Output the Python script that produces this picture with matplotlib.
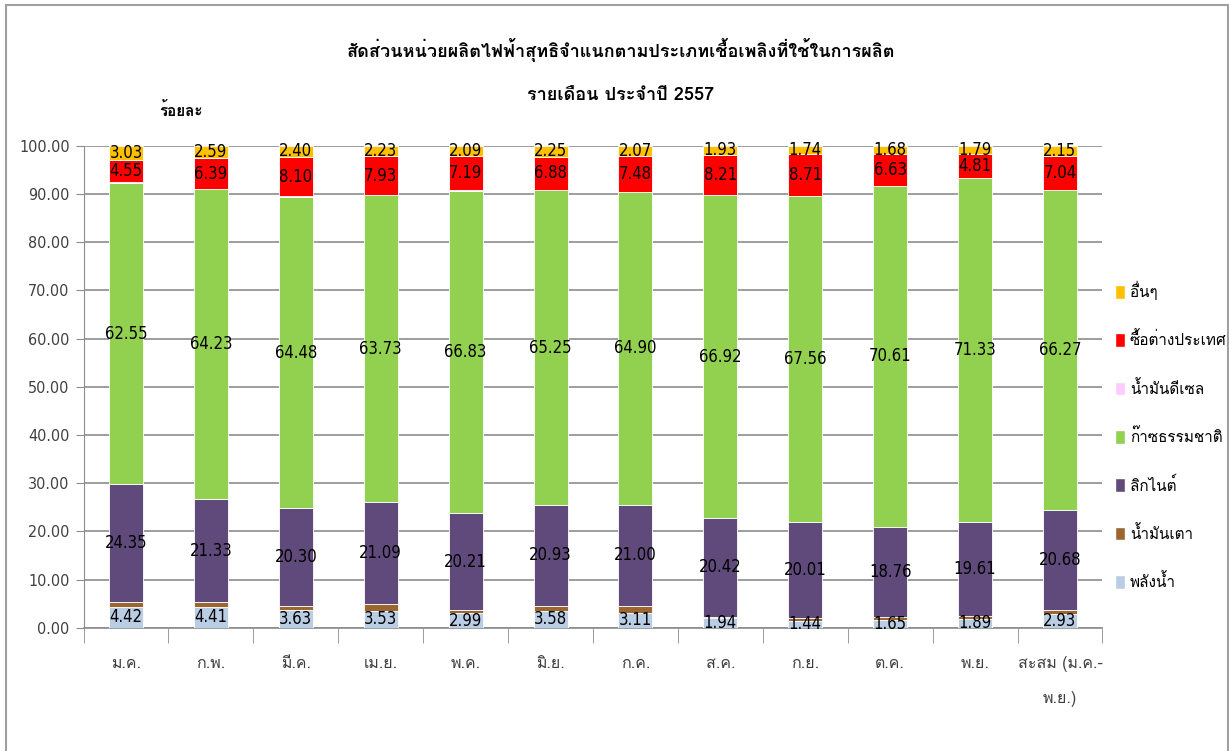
import numpy as np
import matplotlib
matplotlib.use("Agg")
import matplotlib.pyplot as plt
from matplotlib import font_manager
from matplotlib.ft2font import FT2Font
from matplotlib.patches import Rectangle, Patch

# months
months = ["ม.ค.", "ก.พ.", "มี.ค.", "เม.ย.", "พ.ค.", "มิ.ย.", "ก.ค.", "ส.ค.",
          "ก.ย.", "ต.ค.", "พ.ย.", "สะสม (ม.ค.-\nพ.ย.)"]

# series (bottom to top)
hydro = [4.42, 4.41, 3.63, 3.53, 2.99, 3.58, 3.11, 1.94, 1.44, 1.65, 1.89, 2.93]
fuel_oil = [1.00, 0.95, 0.90, 1.40, 0.65, 1.00, 1.40, 0.40, 0.50, 0.60, 0.52, 0.85]
lignite = [24.35, 21.33, 20.30, 21.09, 20.21, 20.93, 21.00, 20.42, 20.01, 18.76, 19.61, 20.68]
gas = [62.55, 64.23, 64.48, 63.73, 66.83, 65.25, 64.90, 66.92, 67.56, 70.61, 71.33, 66.27]
diesel = [0.10, 0.10, 0.19, 0.09, 0.04, 0.11, 0.04, 0.18, 0.04, 0.07, 0.05, 0.08]
imports = [4.55, 6.39, 8.10, 7.93, 7.19, 6.88, 7.48, 8.21, 8.71, 6.63, 4.81, 7.04]
others = [3.03, 2.59, 2.40, 2.23, 2.09, 2.25, 2.07, 1.93, 1.74, 1.68, 1.79, 2.15]

names = ["พลังน้ำ", "น้ำมันเตา", "ลิกไนต์", "ก๊าซธรรมชาติ", "น้ำมันดีเซล",
         "ซื้อต่างประเทศ", "อื่นๆ"]
colors = ["#B9CDE5", "#9C6630", "#604A7B", "#92D050", "#FFCCFF", "#FF0000", "#FFC000"]
show_label = [True, False, True, True, False, True, True]

title1 = "สัดส่วนหน่วยผลิตไฟฟ้าสุทธิจำแนกตามประเภทเชื้อเพลิงที่ใช้ในการผลิต"
title2 = "รายเดือน ประจำปี 2557"


# find a font that has thai glyphs
def thai_font():
    for f in font_manager.fontManager.ttflist:
        try:
            cmap = FT2Font(f.fname).get_charmap()
        except Exception:
            continue
        if 0x0E01 in cmap and 0x0E49 in cmap:
            return f.name
    return None


tf = thai_font()
fams = ([tf] if tf else []) + ["DejaVu Sans"]
plt.rcParams['font.family'] = fams
numfam = ["DejaVu Sans"]

series = [hydro, fuel_oil, lignite, gas, diesel, imports, others]

fig = plt.figure(figsize=(12.29, 7.51), dpi=100)
ax = fig.add_axes([0.068, 0.164, 0.829, 0.642])

x = np.arange(len(months))
bottom = np.zeros(len(months))
handles = []
for vals, name, col, lab in zip(series, names, colors, show_label):
    vals = np.array(vals)
    ax.bar(x, vals, 0.40, bottom=bottom, color=col, edgecolor="white",
           linewidth=0.6, zorder=3)
    if lab:
        for xi, b, v in zip(x, bottom, vals):
            ax.text(xi, b + v / 2, "%.2f" % v, ha="center", va="center",
                    fontsize=12, family=numfam, fontstretch="condensed",
                    zorder=4)
    handles.append(Patch(facecolor=col, edgecolor="white", label=name))
    bottom += vals

ax.set_xlim(-0.5, len(months) - 0.5)
ax.set_ylim(0, 100)
ax.set_yticks(np.arange(0, 101, 10))
ax.set_yticklabels(["%.2f" % v for v in np.arange(0, 101, 10)],
                   family=numfam, fontstretch="condensed", fontsize=11.5,
                   color="#404040")
ax.yaxis.grid(True, color="#8C8C8C", linewidth=1.2, zorder=0)
ax.tick_params(axis="y", length=6, color="#8C8C8C", pad=4)

ax.set_xticks(x)
ax.set_xticklabels(months, fontsize=11.5, linespacing=2.6, color="#404040")
ax.set_xticks(np.arange(-0.5, len(months)), minor=True)
ax.tick_params(axis="x", which="major", length=0, pad=20)
ax.tick_params(axis="x", which="minor", length=11, color="#8C8C8C")

for s in ["top", "right"]:
    ax.spines[s].set_visible(False)
ax.spines["left"].set_color("#8C8C8C")
ax.spines["bottom"].set_color("#8C8C8C")
ax.spines["bottom"].set_linewidth(1.2)

fig.text(0.505, 0.933, title1, ha="center", va="center", fontsize=13,
         fontweight="bold")
fig.text(0.505, 0.873, title2, ha="center", va="center", fontsize=13,
         fontweight="bold")
fig.text(0.147, 0.853, "ร้อยละ", ha="center", va="center", fontsize=11,
         fontweight="bold")

fig.legend(handles=handles[::-1], loc="center left",
           bbox_to_anchor=(0.907, 0.42), frameon=False, fontsize=11,
           handlelength=0.7, handleheight=1.0, handletextpad=0.3,
           labelspacing=2.05, borderaxespad=0, borderpad=0)

# chart border
fig.patches.append(Rectangle((6 / 1229, -0.01), 1222 / 1229, 1 - 5 / 751 + 0.01,
                             transform=fig.transFigure, fill=False,
                             edgecolor="#A0A0A0", linewidth=1.5))

fig.savefig("out.png", dpi=100)
